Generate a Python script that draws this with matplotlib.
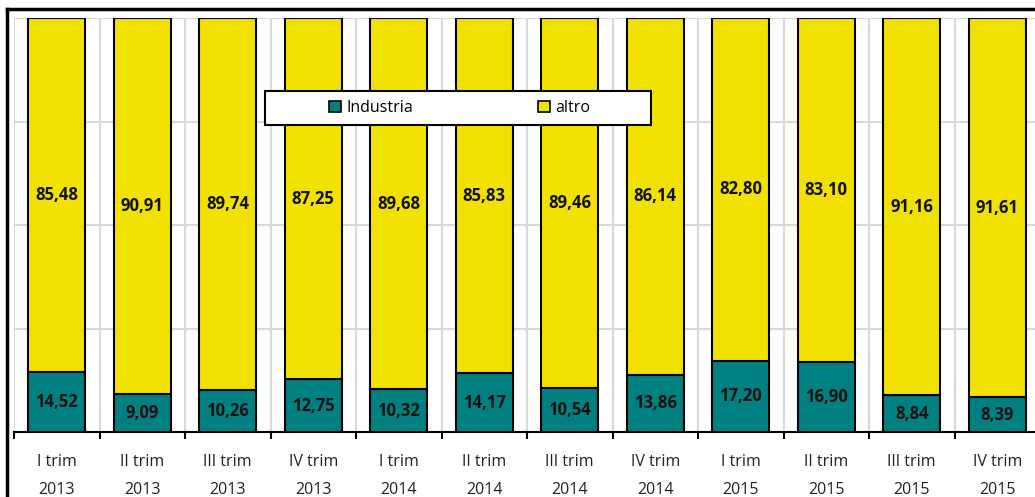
import numpy as np
import matplotlib.pyplot as plt
from matplotlib.lines import Line2D
from matplotlib.patches import Rectangle

plt.rcParams['font.family'] = ['Open Sans', 'DejaVu Sans']

periods = ['I trim', 'II trim', 'III trim', 'IV trim'] * 3
years = ['2013'] * 4 + ['2014'] * 4 + ['2015'] * 4
industria = [14.52, 9.09, 10.26, 12.75, 10.32, 14.17, 10.54, 13.86, 17.20, 16.90, 8.84, 8.39]
altro = [85.48, 90.91, 89.74, 87.25, 89.68, 85.83, 89.46, 86.14, 82.80, 83.10, 91.16, 91.61]

teal = '#008080'
yellow = '#F0E100'

fig = plt.figure(figsize=(10.35, 4.97), dpi=100)
W, H = 1035, 497
AW, AH = 1026, 414
ax = fig.add_axes([14 / W, 65 / H, AW / W, AH / H])

x = np.arange(len(industria)) + 0.5
ind = np.array(industria)
alt = np.array(altro)
ax.bar(x, ind, width=0.67, color=teal, edgecolor='black', linewidth=1.5, label='Industria', zorder=3)
ax.bar(x, alt, width=0.67, bottom=ind, color=yellow, edgecolor='black', linewidth=1.5, label='altro', zorder=3)

def fmt(v):
    return f'{v:.2f}'.replace('.', ',')

for xi, a, b in zip(x, ind, alt):
    ax.text(xi, a / 2, fmt(a), ha='center', va='center', fontsize=12, fontweight='bold', color='#111111', zorder=4)
    ax.text(xi, a + b / 2, fmt(b), ha='center', va='center', fontsize=12, fontweight='bold', color='#111111', zorder=4)

ax.set_xlim(0, 12)
ax.set_ylim(0, 100)
ax.set_yticks([25, 50, 75, 100])
ax.set_yticklabels([])
ax.tick_params(axis='y', length=0)
ax.grid(axis='y', color='#d9d9d9', linewidth=1.5, zorder=0)
for b in range(13):
    ax.axvline(b, color='#d9d9d9', linewidth=1.5, zorder=0)

ax.set_xticks(x)
ax.set_xticklabels([f'{p}\n{y}' for p, y in zip(periods, years)], fontsize=11.5, color='#222222', linespacing=1.95)
ax.tick_params(axis='x', length=0, pad=16)
ax.set_xticks(np.arange(13), minor=True)
ax.tick_params(axis='x', which='minor', length=5, width=1.5, color='black', direction='out')

for s in ['left', 'right', 'top']:
    ax.spines[s].set_visible(False)
ax.spines['bottom'].set_linewidth(1.5)

# legend frame drawn separately (Excel-style fixed width box)
ax.add_patch(Rectangle(((265 - 14) / AW, (432 - 125) / AH), 386 / AW, 34 / AH, transform=ax.transAxes,
                       facecolor='white', edgecolor='black', linewidth=1.5, zorder=5))
leg = ax.legend(loc='center left', bbox_to_anchor=((329 - 14) / AW, (432 - 108) / AH), ncol=2,
                frameon=False, fontsize=11.5,
                columnspacing=7.8, handlelength=0.75, handleheight=0.75, handletextpad=0.35,
                borderpad=0, borderaxespad=0)
leg.set_zorder(6)
for h in leg.legend_handles:
    h.set_linewidth(1.2)

# outer chart border (top and left visible)
fig.add_artist(Line2D([7 / W, 7 / W], [0, 1 - 9 / H], transform=fig.transFigure, color='black', linewidth=2.5))
fig.add_artist(Line2D([7 / W, 1], [1 - 9 / H, 1 - 9 / H], transform=fig.transFigure, color='black', linewidth=2.5))

fig.savefig('out.png', dpi=100)
